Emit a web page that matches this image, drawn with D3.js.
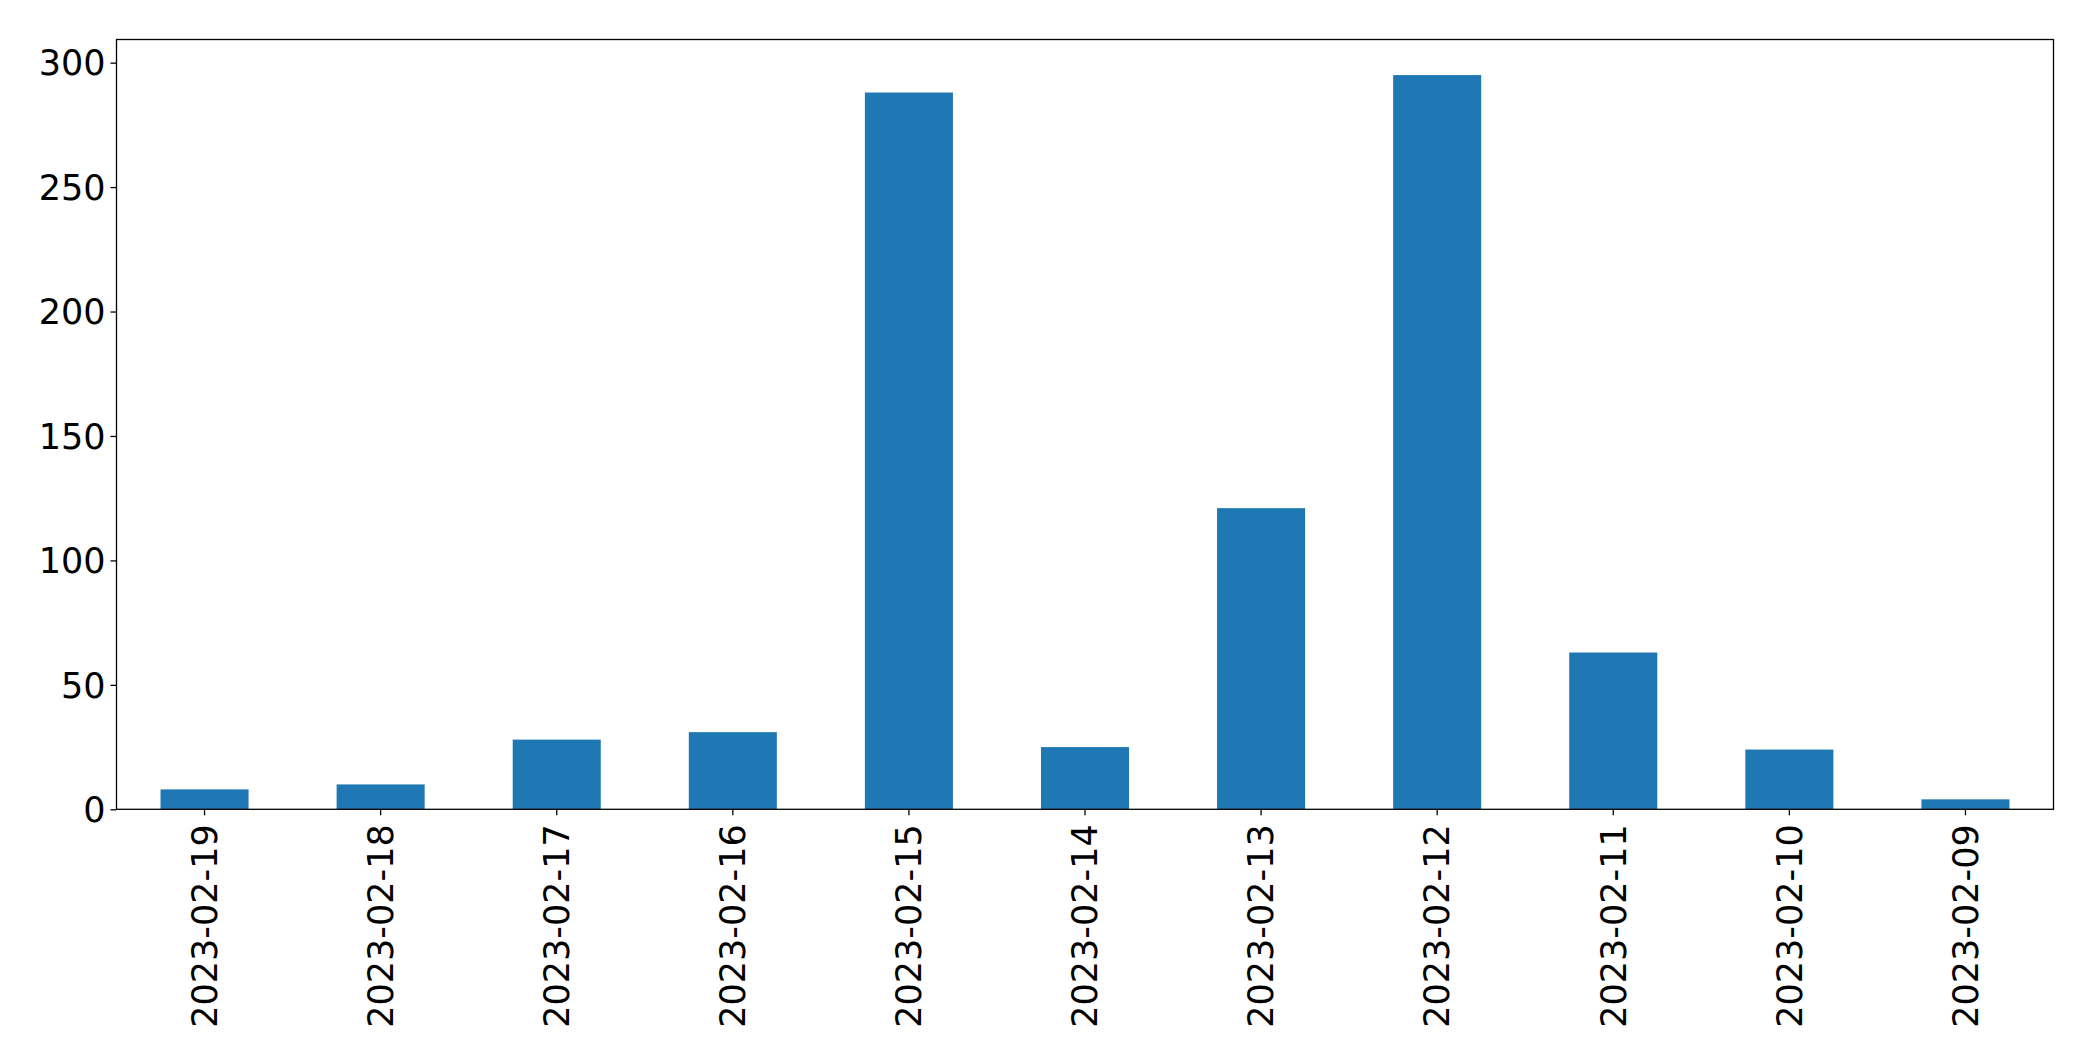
<!DOCTYPE html>
<html>
<head>
<meta charset="utf-8">
<script src="https://cdn.jsdelivr.net/npm/d3@7"></script>
<style>
  html, body { margin: 0; padding: 0; background: #fff; }
  svg { display: block; }
</style>
</head>
<body>
<svg id="chart" width="2093" height="1061"></svg>
<script>
const categories = ["2023-02-19","2023-02-18","2023-02-17","2023-02-16","2023-02-15","2023-02-14","2023-02-13","2023-02-12","2023-02-11","2023-02-10","2023-02-09"];
const values = [8, 10, 28, 31, 288, 25, 121, 295, 63, 24, 4];
const yTicks = [0, 50, 100, 150, 200, 250, 300];

const W = 2093, H = 1061;
const margin = {left: 116.5, right: W - 2053.5, top: 39.5, bottom: H - 809.3};
const svg = d3.select("#chart");
const innerW = W - margin.left - margin.right;
const innerH = H - margin.top - margin.bottom;

const x = d3.scaleBand().domain(categories).range([margin.left, margin.left + innerW]).paddingInner(0.5).paddingOuter(0.25);
const y = d3.scaleLinear().domain([0, 309.3]).range([margin.top + innerH, margin.top]);

const font = "DejaVu Sans, sans-serif";
const fs = 35;

svg.append("g").selectAll("rect").data(values).join("rect")
  .attr("x", (d, i) => x(categories[i]))
  .attr("width", x.bandwidth())
  .attr("y", d => y(d))
  .attr("height", d => y(0) - y(d))
  .attr("fill", "#1f77b4");

const yAxis = svg.append("g")
  .attr("transform", `translate(${margin.left},0)`)
  .call(d3.axisLeft(y).tickValues(yTicks).tickSize(6).tickPadding(5).tickFormat(d3.format("d")));
yAxis.select(".domain").remove();
yAxis.selectAll("line").attr("stroke", "#000").attr("stroke-width", 1.3);
yAxis.selectAll("text").attr("font-family", font).attr("font-size", fs).attr("fill", "#000").attr("dy", "0.35em");

const xAxis = svg.append("g")
  .attr("transform", `translate(0,${margin.top + innerH})`)
  .call(d3.axisBottom(x).tickSize(6).tickPadding(10));
xAxis.select(".domain").remove();
xAxis.selectAll("line").attr("stroke", "#000").attr("stroke-width", 1.3);
xAxis.selectAll("text")
  .attr("font-family", font).attr("font-size", fs).attr("fill", "#000")
  .attr("transform", "rotate(-90)")
  .attr("text-anchor", "end")
  .attr("x", -15)
  .attr("y", 0)
  .attr("dy", "0.35em");

svg.append("rect")
  .attr("x", margin.left).attr("y", margin.top)
  .attr("width", innerW).attr("height", innerH)
  .attr("fill", "none").attr("stroke", "#000").attr("stroke-width", 1.3);
</script>
</body>
</html>
